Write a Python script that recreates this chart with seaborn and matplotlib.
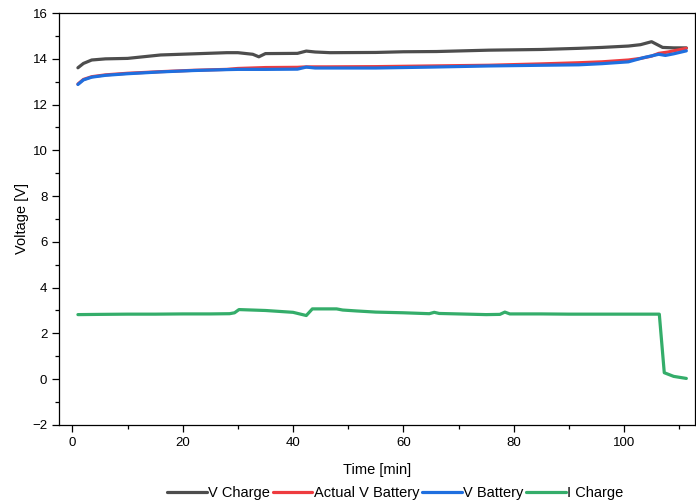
import matplotlib
matplotlib.use("Agg")
import matplotlib.pyplot as plt
import seaborn as sns
import pandas as pd
from matplotlib.ticker import MultipleLocator

# ---- data ----
t_vcharge = [1, 2, 3.5, 6, 10, 16, 22, 28, 30, 32.7, 33.8, 35, 40.8, 42.4, 44, 46.7,
             55, 60, 66, 75.5, 85, 91.8, 96, 100.8, 103, 105, 107, 109, 111.3]
v_charge = [13.61, 13.8, 13.95, 14.0, 14.02, 14.17, 14.22, 14.27, 14.27, 14.2, 14.09, 14.23,
            14.24, 14.34, 14.3, 14.27, 14.28, 14.31, 14.32, 14.38, 14.41, 14.46, 14.5,
            14.56, 14.62, 14.75, 14.5, 14.48, 14.48]

t_actual = [1, 2, 3.5, 6, 10, 16, 22, 28, 30, 35, 40.8, 42.4, 46, 55, 65, 75.5, 85, 91.8,
            96, 100.8, 103, 105, 106.3, 108, 111.3]
actual_v_battery = [12.9, 13.1, 13.22, 13.3, 13.37, 13.44, 13.5, 13.54, 13.58, 13.62, 13.63,
                    13.65, 13.65, 13.66, 13.69, 13.72, 13.78, 13.83, 13.87, 13.95, 14.02,
                    14.12, 14.24, 14.3, 14.46]

t_vbat = [1, 2, 3.5, 6, 10, 16, 22, 28, 30, 35, 40.8, 42.4, 44, 55, 65, 75.5, 85, 91.8,
          96, 100.8, 103.5, 106.3, 107.5, 109, 111.3]
v_battery = [12.88, 13.08, 13.2, 13.28, 13.35, 13.43, 13.49, 13.53, 13.54, 13.54, 13.55,
             13.64, 13.6, 13.6, 13.64, 13.69, 13.72, 13.74, 13.79, 13.87, 14.05, 14.2,
             14.15, 14.22, 14.35]

t_icharge = [1, 5, 10, 15, 20, 25, 28.5, 29.4, 30.2, 35, 40, 42.4, 43.5, 47.9, 49, 51.5,
             55, 60, 64.7, 65.6, 66.5, 70, 75, 77.5, 78.4, 79.3, 85, 90, 95, 100, 106.4,
             107.3, 109, 111.3]
i_charge = [2.82, 2.83, 2.84, 2.84, 2.85, 2.85, 2.86, 2.9, 3.04, 3.0, 2.92, 2.78, 3.07,
            3.07, 3.02, 2.98, 2.93, 2.9, 2.86, 2.92, 2.87, 2.85, 2.82, 2.83, 2.93, 2.85,
            2.85, 2.84, 2.84, 2.84, 2.84, 0.28, 0.12, 0.03]

series_names = ["V Charge", "Actual V Battery", "V Battery", "I Charge"]
colors = ["#4d4d4d", "#ee3b3f", "#1f6fdf", "#34ad6a"]

frames = []
for name, tt, vv in zip(series_names,
                        [t_vcharge, t_actual, t_vbat, t_icharge],
                        [v_charge, actual_v_battery, v_battery, i_charge]):
    frames.append(pd.DataFrame({"Time": tt, "Value": vv, "Series": name}))
df = pd.concat(frames, ignore_index=True)

# ---- plot ----
sns.set_style("ticks")
plt.rcParams["font.family"] = ["Liberation Sans", "DejaVu Sans"]

fig = plt.figure(figsize=(6.96, 5.04), dpi=100)
ax = fig.add_axes([0.085, 0.157, 0.913, 0.817])

sns.lineplot(data=df, x="Time", y="Value", hue="Series", hue_order=series_names,
             palette=dict(zip(series_names, colors)), estimator=None, sort=False,
             linewidth=2.3, ax=ax, legend=True)

ax.set_xlim(-2.4, 112.8)
ax.set_ylim(-2, 16)
ax.xaxis.set_major_locator(MultipleLocator(20))
ax.xaxis.set_minor_locator(MultipleLocator(10))
ax.yaxis.set_major_locator(MultipleLocator(2))
ax.yaxis.set_minor_locator(MultipleLocator(1))
ax.tick_params(which="major", direction="out", length=5, width=0.9, labelsize=9.5,
               color="black", labelcolor="black")
ax.tick_params(which="minor", direction="out", length=3, width=0.9, color="black")
for s in ax.spines.values():
    s.set_visible(True)
    s.set_color("black")
    s.set_linewidth(0.9)

ax.set_xlabel("Time [min]", fontsize=10.5, labelpad=10, color="black")
ax.set_ylabel("Voltage [V]", fontsize=10.5, labelpad=2, color="black")

handles, labels = ax.get_legend_handles_labels()
ax.legend_.remove()
fig.legend(handles, labels, loc="center", bbox_to_anchor=(0.568, 0.022), ncol=4,
           frameon=False, fontsize=10.5, handlelength=2.7, handletextpad=0.1,
           columnspacing=0.2, borderaxespad=0, labelcolor="black")

fig.savefig("out.png", dpi=100)
